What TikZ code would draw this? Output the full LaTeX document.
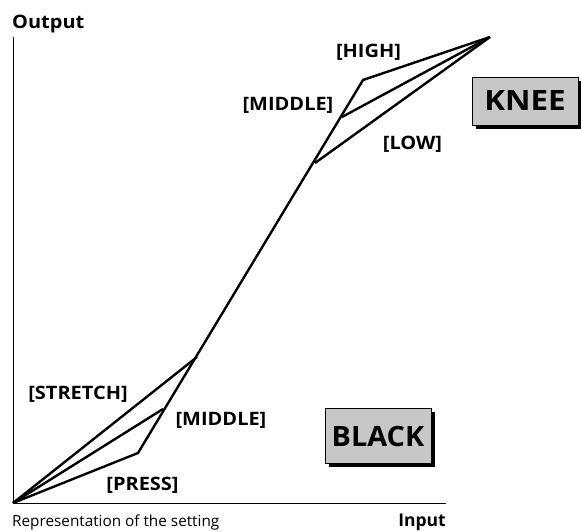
\documentclass[tikz,border=0pt]{standalone}
\usepackage{fontspec}
\setmainfont{Open Sans}
\newcommand\wider[2]{\scalebox{#1}[1]{#2}}
\begin{document}
\begin{tikzpicture}[x=1pt,y=-1pt,
  curve/.style={line width=2.4pt,line join=miter},
  axis/.style={line width=1pt},
  lbl/.style={font=\bfseries\fontsize{18.5}{20}\selectfont,inner sep=0pt},
  bigbox/.style={draw,line width=0.8pt,fill=black!22},
  bigtext/.style={font=\bfseries\fontsize{28}{30}\selectfont,inner sep=0pt},
  shadow/.style={fill=black}]
\useasboundingbox (0,0) rectangle (581,532);
% key points
\coordinate (O) at (13,503);
\coordinate (T) at (490,37);
\coordinate (Ytop) at (13,37);
\coordinate (Xend) at (446,503);
\coordinate (S) at (197,357);
\coordinate (M1) at (163,409);
\coordinate (P) at (138,453);
\coordinate (L) at (315,163);
\coordinate (M2) at (342,117);
\coordinate (H) at (363,80);
% axes
\draw[axis] (Ytop) -- (O) -- (Xend);
% curves
\draw[curve] (O) -- (S);
\draw[curve] (O) -- (M1);
\draw[curve] (O) -- (P) -- (H) -- (T);
\draw[curve] (L) -- (T);
\draw[curve] (M2) -- (T);
% labels
\node[lbl,anchor=base west] (out) at (12,28.5) {\wider{1.08}{Output}};
\node[anchor=base west,inner sep=0pt,font=\fontsize{15.3}{17}\selectfont] (rep) at (12,526) {Representation of the setting};
\node[lbl,anchor=base east,font=\bfseries\fontsize{17.5}{19}\selectfont] (inp) at (446,526) {Input};
\node[lbl] (high) at (368.5,52.5) {\wider{1.08}{[HIGH]}};
\node[lbl] (mid2) at (288,105) {\wider{1.08}{[MIDDLE]}};
\node[lbl] (low) at (412.5,144) {\wider{1.08}{[LOW]}};
\node[lbl] (str) at (78,394) {\wider{1.08}{[STRETCH]}};
\node[lbl] (mid1) at (221,420) {\wider{1.08}{[MIDDLE]}};
\node[lbl] (press) at (142.5,485) {\wider{1.08}{[PRESS]}};
% boxes
\fill[shadow] (476,81) rectangle (582,129);
\draw[bigbox] (472,77) rectangle (578,125);
\node[bigtext] (knee) at (525,101) {\wider{1.12}{KNEE}};
\fill[shadow] (329,412) rectangle (435,467);
\draw[bigbox] (325,408) rectangle (431,463);
\node[bigtext] (black) at (378,436) {\wider{1.03}{BLACK}};
\end{tikzpicture}
\end{document}
